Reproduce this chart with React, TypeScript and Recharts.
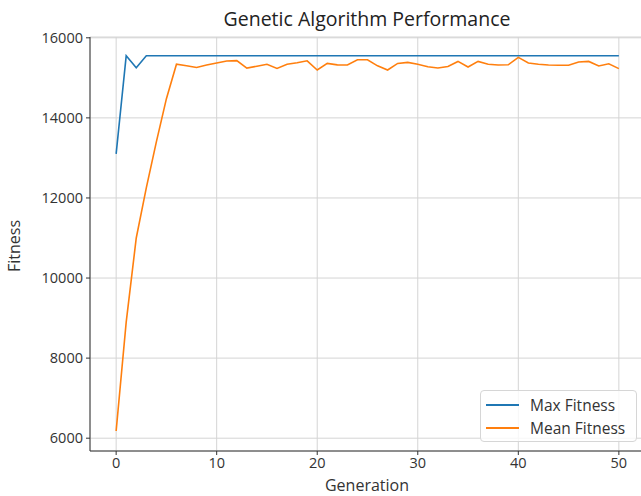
import { LineChart, Line, XAxis, YAxis, CartesianGrid } from 'recharts'

const generations = Array.from({ length: 51 }, (_, i) => i)

const maxFitness = [
  13100, 15550, 15250, 15550, 15550, 15550, 15550, 15550, 15550, 15550,
  15550, 15550, 15550, 15550, 15550, 15550, 15550, 15550, 15550, 15550,
  15550, 15550, 15550, 15550, 15550, 15550, 15550, 15550, 15550, 15550,
  15550, 15550, 15550, 15550, 15550, 15550, 15550, 15550, 15550, 15550,
  15550, 15550, 15550, 15550, 15550, 15550, 15550, 15550, 15550, 15550,
  15550,
]

const meanFitness = [
  6180, 8900, 11000, 12250, 13400, 14480, 15340, 15300, 15260, 15320,
  15370, 15420, 15430, 15245, 15290, 15340, 15235, 15340, 15375, 15425,
  15195, 15360, 15325, 15320, 15450, 15450, 15300, 15195, 15360, 15385,
  15340, 15275, 15245, 15285, 15410, 15270, 15410, 15340, 15320, 15325,
  15510, 15370, 15340, 15320, 15315, 15315, 15395, 15410, 15295, 15350,
  15230,
]

const xTicks = [0, 10, 20, 30, 40, 50]
const yTicks = [6000, 8000, 10000, 12000, 14000, 16000]

const series = [
  { key: 'max', name: 'Max Fitness', color: '#1f77b4' },
  { key: 'mean', name: 'Mean Fitness', color: '#ff7f0e' },
]

const data = generations.map((g, i) => ({ gen: g, max: maxFitness[i], mean: meanFitness[i] }))

const FONT = '"Open Sans", "Noto Sans", sans-serif'

// legend drawn as an overlay so it doesn't eat into the plot area
function LegendBox() {
  return (
    <div
      style={{
        position: 'absolute',
        left: 480,
        top: 390,
        width: 157,
        height: 52,
        boxSizing: 'border-box',
        border: '1px solid #d6d6d6',
        borderRadius: 4,
        background: 'rgba(255,255,255,0.8)',
        padding: '2px 0 0 5px',
        fontFamily: FONT,
        fontSize: 15.5,
        color: '#333',
        whiteSpace: 'nowrap',
      }}
    >
      {series.map((s) => (
        <div key={s.key} style={{ display: 'flex', alignItems: 'center', height: 23 }}>
          <span style={{ display: 'inline-block', width: 33, height: 0, borderTop: `2px solid ${s.color}`, marginRight: 11 }} />
          <span>{s.name}</span>
        </div>
      ))}
    </div>
  )
}

export default function App() {
  return (
    <div style={{ position: 'absolute', left: 0, top: 0, width: 641, height: 496, overflow: 'hidden', background: '#fff' }}>
      <LineChart width={660} height={496} data={data} margin={{ top: 37, right: 16, bottom: 0, left: 0 }}>
        <CartesianGrid stroke="#d4d4d4" strokeWidth={1} />
        <XAxis
          dataKey="gen"
          type="number"
          domain={[-2.6, 52.5]}
          ticks={xTicks}
          allowDataOverflow
          height={45}
          tickSize={4}
          tickMargin={3}
          stroke="#333"
          tick={{ fill: '#333', fontSize: 14.5, fontFamily: FONT }}
        />
        <XAxis xAxisId="top" orientation="top" dataKey="gen" type="number" domain={[-2.6, 52.5]} height={0} tick={false} tickLine={false} stroke="#333" />
        <YAxis
          type="number"
          domain={[5680, 16020]}
          ticks={yTicks}
          allowDataOverflow
          width={90}
          tickSize={4}
          tickMargin={3}
          stroke="#333"
          tick={{ fill: '#333', fontSize: 14.5, fontFamily: FONT }}
        />
        {series.map((s) => (
          <Line key={s.key} dataKey={s.key} name={s.name} stroke={s.color} strokeWidth={1.6} dot={false} isAnimationActive={false} />
        ))}
        <text x={367} y={26} textAnchor="middle" fontSize={19.5} fontFamily={FONT} fill="#222">
          Genetic Algorithm Performance
        </text>
        <text x={367} y={491} textAnchor="middle" fontSize={16} fontFamily={FONT} fill="#333">
          Generation
        </text>
        <text x={20} y={246} textAnchor="middle" fontSize={16} fontFamily={FONT} fill="#333" transform="rotate(-90 20 246)">
          Fitness
        </text>
      </LineChart>
      <LegendBox />
    </div>
  )
}
